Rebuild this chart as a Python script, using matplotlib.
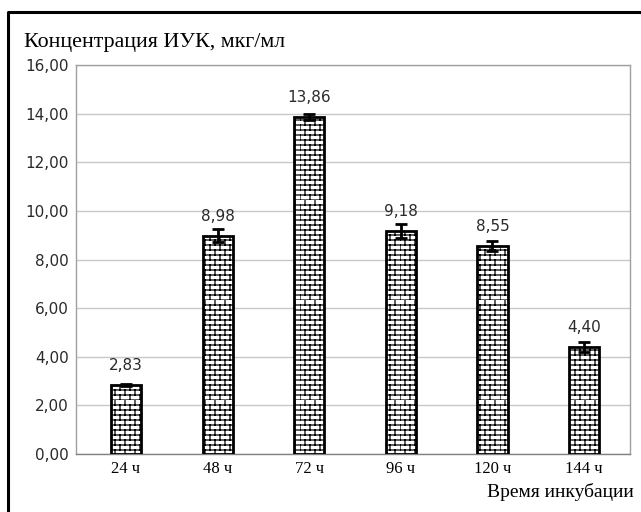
import matplotlib
matplotlib.use("Agg")
import matplotlib.pyplot as plt
import matplotlib.hatch as mhatch
from matplotlib.path import Path
from matplotlib.lines import Line2D
import numpy as np
import warnings

warnings.filterwarnings("ignore")

# ---------------------- data
hours = ['24 ч', '48 ч', '72 ч', '96 ч', '120 ч', '144 ч']
conc = [2.83, 8.98, 13.86, 9.18, 8.55, 4.40]
conc_err = [0.03, 0.28, 0.12, 0.30, 0.20, 0.22]
yticks = [0, 2, 4, 6, 8, 10, 12, 14, 16]


# ---------------------- brick hatch ('b' in the hatch string)
class BrickHatch(mhatch.HatchPatternBase):
    def __init__(self, hatch, density):
        self.num_rows = hatch.count('b') * 10
        self.num_cols = 10
        self.num_vertices = self.num_rows * (2 + 2 * self.num_cols)

    def set_vertices_and_codes(self, vertices, codes):
        k = 0
        for i in range(self.num_rows):
            y0 = i / self.num_rows
            y1 = (i + 1) / self.num_rows
            vertices[k] = (0.0, y0); codes[k] = Path.MOVETO
            vertices[k + 1] = (1.0, y0); codes[k + 1] = Path.LINETO
            k += 2
            shift = 0.5 * (i % 2)
            for j in range(self.num_cols):
                x = (j + shift) / self.num_cols
                vertices[k] = (x, y0); codes[k] = Path.MOVETO
                vertices[k + 1] = (x, y1); codes[k + 1] = Path.LINETO
                k += 2


mhatch._hatch_types.append(BrickHatch)
mhatch._validate_hatch_pattern = lambda h: None

plt.rcParams['hatch.linewidth'] = 0.9

fig = plt.figure(figsize=(6.41, 5.12), dpi=100)
ax = fig.add_axes([76 / 641, 1 - 454 / 512, 554 / 641, 389 / 512])

x = np.arange(len(hours))
ax.bar(x, conc, width=0.33, facecolor='white', edgecolor='black',
       linewidth=2, hatch='bb', zorder=3)
ax.errorbar(x, conc, yerr=conc_err, fmt='none', ecolor='black',
            elinewidth=2, capsize=4, capthick=2, zorder=4)

for xi, v in zip(x, conc):
    ax.annotate(f'{v:.2f}'.replace('.', ','), (xi, v), xytext=(0, 14),
                textcoords='offset points', ha='center', va='center',
                fontsize=11, color='#2a2a2a', family='DejaVu Sans')

ax.set_xlim(-0.546, 5.502)
ax.set_ylim(0, 16)
ax.set_yticks(yticks)
ax.set_yticklabels([f'{t:.2f}'.replace('.', ',') for t in yticks],
                   fontsize=11, color='#2a2a2a', family='DejaVu Sans')
ax.set_xticks(x)
ax.set_xticklabels(hours, fontsize=12, family='Liberation Serif')
ax.tick_params(axis='both', length=0)
ax.tick_params(axis='y', pad=5)
ax.tick_params(axis='x', pad=5)
ax.yaxis.grid(True, color='#c8c8c8', linewidth=1)
ax.set_axisbelow(True)
for side in ['top', 'right', 'left']:
    ax.spines[side].set_color('#a0a0a0')
    ax.spines[side].set_linewidth(1)
ax.spines['bottom'].set_color('#808080')
ax.spines['bottom'].set_linewidth(1)

fig.text(24 / 641, 1 - 43 / 512, 'Концентрация ИУК, мкг/мл', fontsize=15.8,
         family='Liberation Serif', va='center', ha='left')
fig.text(634 / 641, 1 - 492 / 512, 'Время инкубации', fontsize=14,
         family='Liberation Serif', va='center', ha='right')

# outer frame (top and left edges visible)
fig.add_artist(Line2D([8 / 641, 8 / 641, 1.0], [0.0, 1 - 12 / 512, 1 - 12 / 512],
                      transform=fig.transFigure, color='black', linewidth=2.2))

fig.savefig('out.png', dpi=100)
